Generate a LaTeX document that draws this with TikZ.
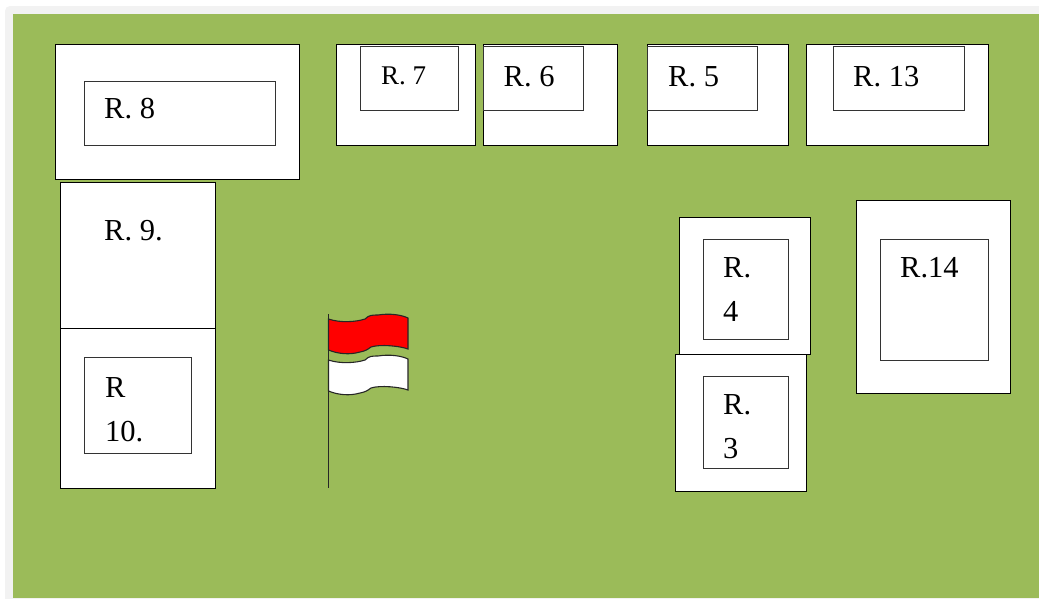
\documentclass[tikz,border=0pt]{standalone}
\usepackage{fontspec}
\setmainfont{Liberation Serif}
\usetikzlibrary{positioning}
\definecolor{fieldgreen}{HTML}{9BBB59}
\definecolor{flagred}{HTML}{FF0000}

\begin{document}
\begin{tikzpicture}[
    x=1pt, y=-1pt,
    room/.style={draw, fill=white, line width=1pt, anchor=north west, inner sep=0pt, outer sep=0pt},
    inroom/.style={room, line width=0.9pt, draw=black!80},
    lab/.style={anchor=west, inner sep=0pt, align=left, font=\fontsize{30.5}{44}\selectfont},
    stripe/.style={draw, line width=1.1pt, draw=black!85}
]
    \useasboundingbox (0,0) rectangle (1039,598);
    \fill[white] (0,0) rectangle (1039,598);
    \fill[black!5, rounded corners=5pt] (5,6) rectangle (1045,610);
    \fill[fieldgreen] (13,14) rectangle (1039,598);

    % top row
    \node[room, minimum width=243.5, minimum height=135] (r8) at (55.5,44) {};
    \node[inroom, minimum width=191, minimum height=64] (r8in) at (84,81) {};
    \node[lab] (r8lab) at (104,109) {R. 8};
    \node[room, minimum width=138.5, minimum height=101] (r7) at (336.5,44) {};
    \node[inroom, minimum width=97.5, minimum height=64] (r7in) at (360.5,46) {};
    \node[lab, font=\fontsize{27}{30}\selectfont] (r7lab) at (381,76) {R. 7};
    \node[room, minimum width=133.5, minimum height=101] (r6) at (483.5,44) {};
    \node[inroom, minimum width=99.5, minimum height=64] (r6in) at (483.5,46) {};
    \node[lab] (r6lab) at (503.5,77) {R. 6};
    \node[room, minimum width=140.5, minimum height=101] (r5) at (647.5,44) {};
    \node[inroom, minimum width=109.5, minimum height=64] (r5in) at (647.5,46) {};
    \node[lab] (r5lab) at (668,77) {R. 5};
    \node[room, minimum width=181.5, minimum height=101] (r13) at (806.5,44) {};
    \node[inroom, minimum width=131, minimum height=64] (r13in) at (833,46) {};
    \node[lab] (r13lab) at (853,77) {R. 13};

    % left column
    \node[room, minimum width=155, minimum height=193] (r9) at (60,182) {};
    \node[lab] (r9lab) at (104,231) {R. 9.};
    \node[room, minimum width=155, minimum height=160] (r10) at (60,328) {};
    \node[inroom, minimum width=107, minimum height=96] (r10in) at (84,357.5) {};
    \node[lab] (r10lab) at (105,410) {R\\10.};

    % right column
    \node[room, minimum width=131, minimum height=137] (r4) at (679,217) {};
    \node[inroom, minimum width=85, minimum height=100] (r4in) at (703,239) {};
    \node[lab] (r4lab) at (723,290) {R.\\4};
    \node[room, minimum width=131, minimum height=137] (r3) at (675,354) {};
    \node[inroom, minimum width=85, minimum height=92] (r3in) at (703,376) {};
    \node[lab] (r3lab) at (723,427) {R.\\3};
    \node[room, minimum width=154, minimum height=193.5] (r14) at (856,200) {};
    \node[inroom, minimum width=108, minimum height=121] (r14in) at (880,239) {};
    \node[lab] (r14lab) at (900,268) {R.14};

    % flag
    \draw[line width=1.1pt, black!85] (328.5,314) -- (328.5,488);
    \foreach \dy/\col in {0/flagred, 41/white} {
        \draw[stripe, fill=\col, shift={(0,\dy)}] (328.5,319)
            .. controls (340,323) and (356,322) .. (365,319)
            .. controls (369,315) and (372,315) .. (378,315)
            .. controls (390,313) and (402,315) .. (408,318)
            -- (408,349)
            .. controls (400,346) and (380,344) .. (371,347)
            .. controls (367,350) and (365,351) .. (360,352)
            .. controls (350,355) and (338,354) .. (328.5,350) -- cycle;
    }
\end{tikzpicture}
\end{document}
